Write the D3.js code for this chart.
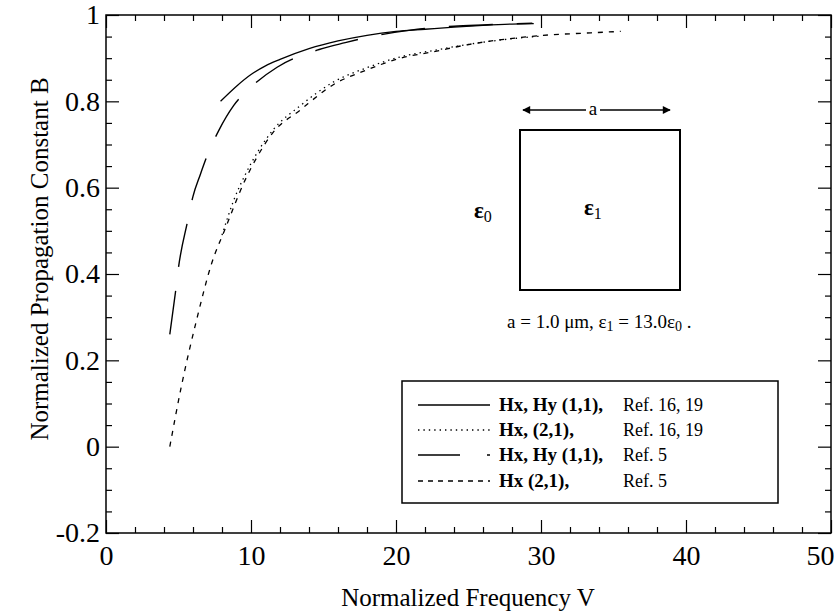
<!DOCTYPE html>
<html>
<head>
<meta charset="utf-8">
<script src="https://cdnjs.cloudflare.com/ajax/libs/d3/7.8.5/d3.min.js"></script>
<style>
  html, body { margin: 0; padding: 0; background: #fff; }
  svg { display: block; font-family: "Liberation Serif", "Times New Roman", serif; }
</style>
</head>
<body>
<svg id="chart" width="834" height="613"></svg>
<script>
// ---------- data ----------
const xMajorTicks = [0, 10, 20, 30, 40, 50];
const yMajorTicks = [-0.2, 0, 0.2, 0.4, 0.6, 0.8, 1];
const yTickLabels = ["-0.2", "0", "0.2", "0.4", "0.6", "0.8", "1"];

// Hx, Hy (1,1), Ref. 16, 19  (solid)
const solidV = [7.9, 9, 10, 11, 12, 14, 16, 18, 20, 22, 24, 26, 28, 29.5];
const solidB = [0.80, 0.835, 0.862, 0.882, 0.897, 0.922, 0.940, 0.953, 0.962, 0.967, 0.972, 0.976, 0.979, 0.980];

// Hx, (2,1), Ref. 16, 19  (dotted)
const dottedV = [8.0, 8.8, 9.6, 10.5, 11.5, 13.4, 15.7, 18, 20.3, 22.6, 25, 28, 30];
const dottedB = [0.49, 0.57, 0.63, 0.685, 0.733, 0.79, 0.845, 0.878, 0.903, 0.918, 0.932, 0.945, 0.951];

// Hx, Hy (1,1), Ref. 5  (long dash)
const longV = [4.4, 4.8, 5.0, 5.6, 6.0, 6.5, 7.0, 7.8, 8.8, 10.0, 11.8, 14.7, 16.5, 18, 21, 24, 26, 29.4];
const longB = [0.26, 0.36, 0.415, 0.518, 0.58, 0.63, 0.676, 0.734, 0.79, 0.833, 0.879, 0.92, 0.936, 0.948, 0.965, 0.974, 0.977, 0.981];

// Hx (2,1), Ref. 5  (short dash)
const shortV = [4.4, 5.2, 6.25, 7.3, 8.2, 9.6, 10.4, 11.5, 13.4, 15.7, 18.0, 20.3, 22.6, 24.9, 28.3, 30.6, 33, 35.5];
const shortB = [0.0, 0.14, 0.294, 0.426, 0.503, 0.618, 0.67, 0.727, 0.78, 0.839, 0.873, 0.9, 0.915, 0.931, 0.947, 0.954, 0.958, 0.962];

const legendMode = ["Hx, Hy (1,1),", "Hx, (2,1),", "Hx, Hy (1,1),", "Hx (2,1),"];
const legendRef = ["Ref. 16, 19", "Ref. 16, 19", "Ref. 5", "Ref. 5"];

// ---------- setup ----------
const svg = d3.select("#chart");
const L = 106, R = 831, T = 15, B = 533;
const x = d3.scaleLinear().domain([0, 50]).range([L, R]);
const y = d3.scaleLinear().domain([-0.2, 1]).range([B, T]);

const styles = [
  { dash: null, width: 1.3 },
  { dash: "1.4,4", width: 1.3 },
  { dash: "44,24", width: 1.4 },
  { dash: "5,6", width: 1.3 }
];
const seriesData = [
  solidV.map((v, i) => [v, solidB[i]]),
  dottedV.map((v, i) => [v, dottedB[i]]),
  longV.map((v, i) => [v, longB[i]]),
  shortV.map((v, i) => [v, shortB[i]])
];

// ---------- axes ----------
const majorLen = 13, minorLen = 6;
const xMinor = d3.range(0, 50.01, 2).filter(v => v % 10 !== 0);
const yMinor = d3.range(-0.2, 1.001, 0.05).map(v => +v.toFixed(2)).filter(v => Math.abs(Math.round(v * 5) - v * 5) > 1e-6);

function styleAxis(g) {
  g.attr("font-family", "Liberation Serif").attr("font-size", 28);
  g.select(".domain").remove();
  g.selectAll("line").attr("stroke", "#000").attr("stroke-width", 1.2);
  g.selectAll("text").attr("fill", "#000");
}

// bottom
svg.append("g").attr("transform", `translate(0,${B})`)
  .call(d3.axisBottom(x).tickValues(xMajorTicks).tickSize(-majorLen).tickPadding(12).tickFormat(d3.format("d")))
  .call(styleAxis)
  .call(g => g.selectAll("text").attr("dy", "0.72em"))
  .call(g => g.selectAll("text").filter(d => d === 50).attr("text-anchor", "end").attr("dx", 3));
svg.append("g").attr("transform", `translate(0,${B})`)
  .call(d3.axisBottom(x).tickValues(xMinor).tickSize(-minorLen).tickFormat(""))
  .call(styleAxis);
// top
svg.append("g").attr("transform", `translate(0,${T})`)
  .call(d3.axisTop(x).tickValues(xMajorTicks).tickSize(-majorLen).tickFormat(""))
  .call(styleAxis);
svg.append("g").attr("transform", `translate(0,${T})`)
  .call(d3.axisTop(x).tickValues(xMinor).tickSize(-minorLen).tickFormat(""))
  .call(styleAxis);
// left
svg.append("g").attr("transform", `translate(${L},0)`)
  .call(d3.axisLeft(y).tickValues(yMajorTicks).tickSize(-majorLen).tickPadding(6).tickFormat((d, i) => yTickLabels[i]))
  .call(styleAxis);
svg.append("g").attr("transform", `translate(${L},0)`)
  .call(d3.axisLeft(y).tickValues(yMinor).tickSize(-minorLen).tickFormat(""))
  .call(styleAxis);
// right
svg.append("g").attr("transform", `translate(${R},0)`)
  .call(d3.axisRight(y).tickValues(yMajorTicks).tickSize(-majorLen).tickFormat(""))
  .call(styleAxis);
svg.append("g").attr("transform", `translate(${R},0)`)
  .call(d3.axisRight(y).tickValues(yMinor).tickSize(-minorLen).tickFormat(""))
  .call(styleAxis);

// frame
svg.append("rect").attr("x", L).attr("y", T).attr("width", R - L).attr("height", B - T)
  .attr("fill", "none").attr("stroke", "#000").attr("stroke-width", 1.5);

// axis titles
svg.append("text").attr("x", 468).attr("y", 606).attr("text-anchor", "middle")
  .attr("font-size", 25).text("Normalized Frequency V");
svg.append("text").attr("transform", `translate(48,${(T + B) / 2 - 15}) rotate(-90)`)
  .attr("text-anchor", "middle").attr("font-size", 25).text("Normalized Propagation Constant B");

// ---------- curves ----------
const line = d3.line().x(d => x(d[0])).y(d => y(d[1])).curve(d3.curveMonotoneX);
seriesData.forEach((data, i) => {
  svg.append("path").datum(data).attr("d", line)
    .attr("fill", "none").attr("stroke", "#000")
    .attr("stroke-width", styles[i].width)
    .attr("stroke-dasharray", styles[i].dash);
});

// ---------- inset ----------
const inset = svg.append("g");
const defs = svg.append("defs");
defs.append("marker").attr("id", "arrow").attr("viewBox", "0 0 10 10").attr("refX", 9).attr("refY", 5)
  .attr("markerWidth", 16).attr("markerHeight", 8).attr("markerUnits", "userSpaceOnUse").attr("orient", "auto-start-reverse")
  .append("path").attr("d", "M0,0 L10,5 L0,10 Z").attr("fill", "#000");
inset.append("line").attr("x1", 523).attr("x2", 586).attr("y1", 110).attr("y2", 110)
  .attr("stroke", "#000").attr("stroke-width", 1.5).attr("marker-start", "url(#arrow)");
inset.append("line").attr("x1", 600).attr("x2", 670).attr("y1", 110).attr("y2", 110)
  .attr("stroke", "#000").attr("stroke-width", 1.5).attr("marker-end", "url(#arrow)");
inset.append("text").attr("x", 593).attr("y", 115).attr("text-anchor", "middle")
  .attr("font-size", 19).text("a");
inset.append("rect").attr("x", 520).attr("y", 130).attr("width", 160).attr("height", 160)
  .attr("fill", "none").attr("stroke", "#000").attr("stroke-width", 2);
const e0 = inset.append("text").attr("x", 474).attr("y", 218).attr("font-size", 23).attr("font-weight", "bold");
e0.append("tspan").text("ε");
e0.append("tspan").attr("font-size", 16).attr("font-weight", "normal").attr("dy", 4).text("0");
const e1 = inset.append("text").attr("x", 584).attr("y", 215).attr("font-size", 23).attr("font-weight", "bold");
e1.append("tspan").text("ε");
e1.append("tspan").attr("font-size", 16).attr("font-weight", "normal").attr("dy", 4).text("1");
const cap = inset.append("text").attr("x", 507).attr("y", 328).attr("font-size", 19);
cap.append("tspan").text("a = 1.0 μm, ε");
cap.append("tspan").attr("font-size", 14).attr("dy", 3).text("1");
cap.append("tspan").attr("dy", -3).text(" = 13.0ε");
cap.append("tspan").attr("font-size", 14).attr("dy", 3).text("0");
cap.append("tspan").attr("dy", -3).text(" .");

// ---------- legend ----------
const lg = svg.append("g");
lg.append("rect").attr("x", 402).attr("y", 381).attr("width", 376).attr("height", 122)
  .attr("fill", "#fff").attr("stroke", "#000").attr("stroke-width", 1.5);
const rowY = [405, 430, 455, 481];
const legendDash = [null, "1.4,4", "42,27", "5,5"];
legendMode.forEach((m, i) => {
  lg.append("line").attr("x1", 418).attr("x2", 490).attr("y1", rowY[i]).attr("y2", rowY[i])
    .attr("stroke", "#000").attr("stroke-width", 1.3).attr("stroke-dasharray", legendDash[i]);
  lg.append("text").attr("x", 499).attr("y", rowY[i] + 6).attr("font-size", 19).attr("font-weight", "bold").text(m);
  lg.append("text").attr("x", 623).attr("y", rowY[i] + 6).attr("font-size", 18).text(legendRef[i]);
});
</script>
</body>
</html>
